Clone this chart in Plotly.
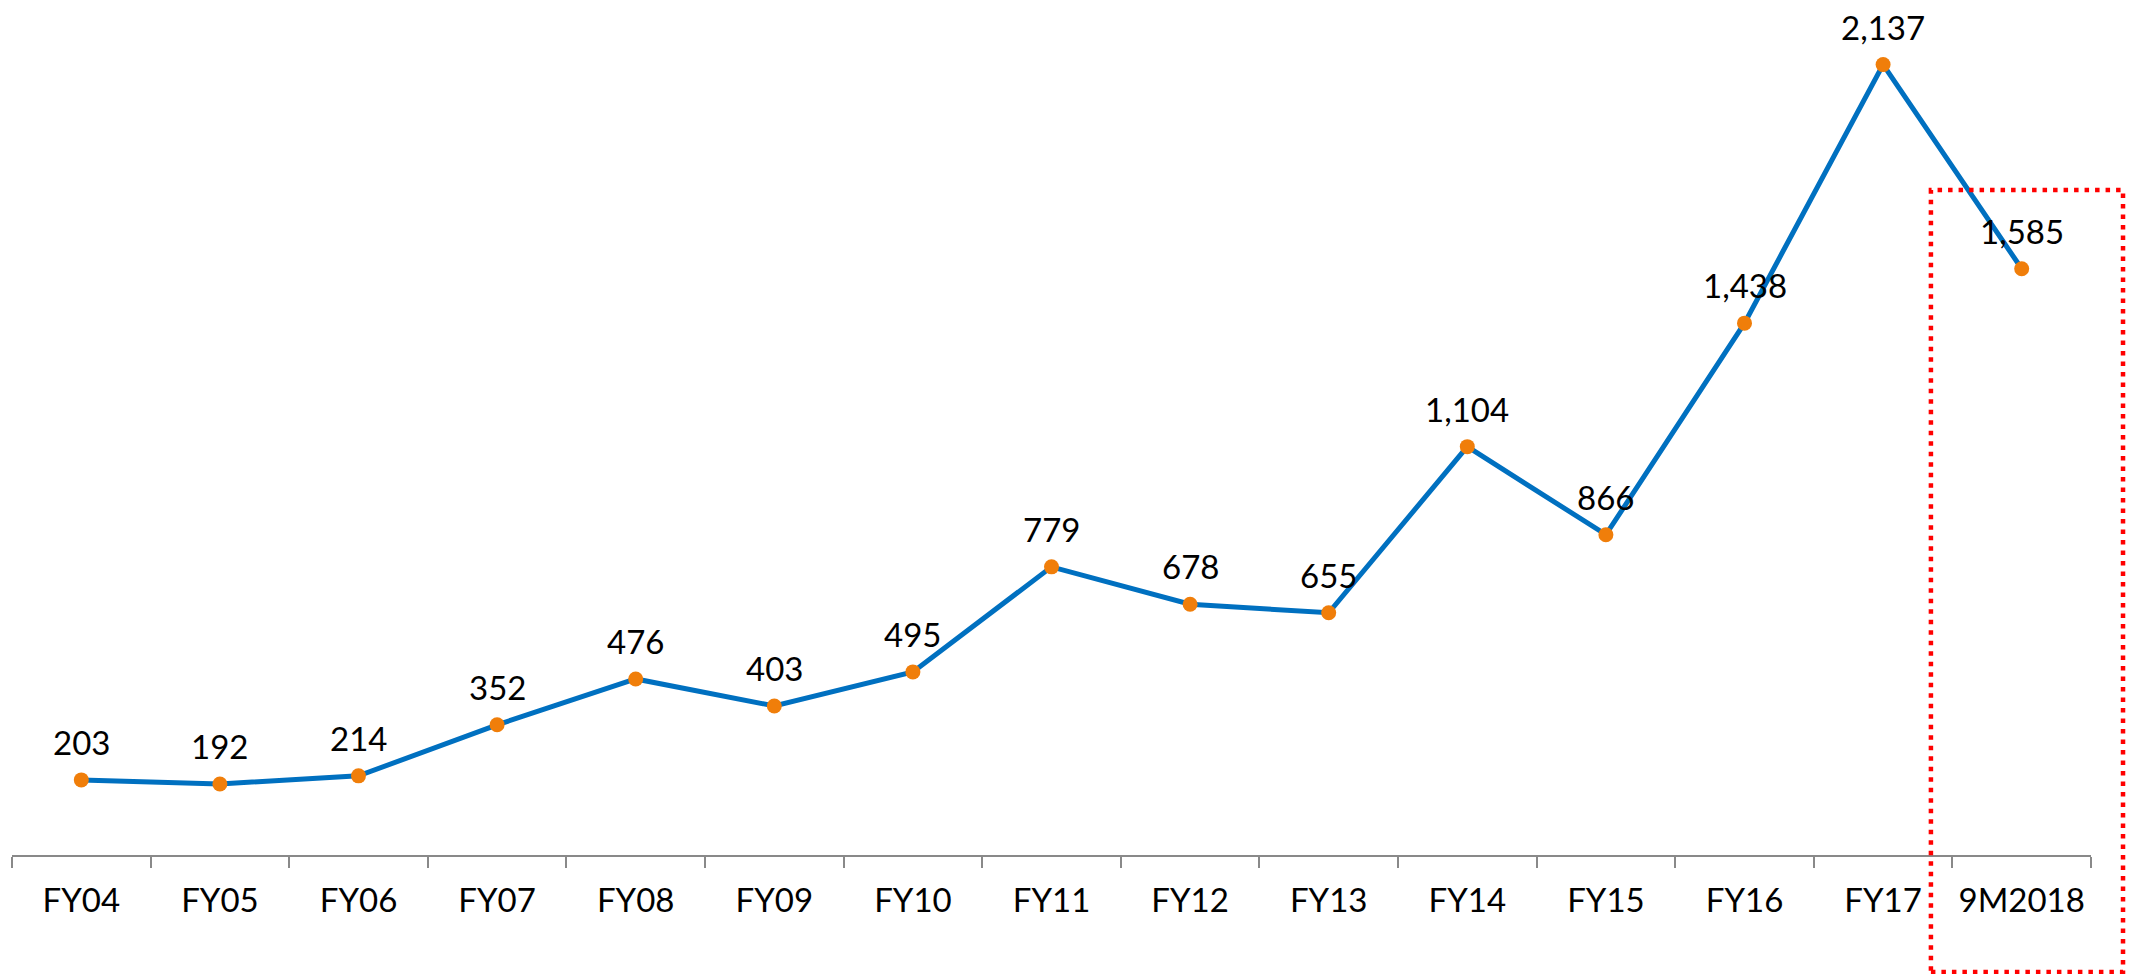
import plotly.graph_objects as go

categories = ["FY04", "FY05", "FY06", "FY07", "FY08", "FY09", "FY10", "FY11",
              "FY12", "FY13", "FY14", "FY15", "FY16", "FY17", "9M2018"]
values = [203, 192, 214, 352, 476, 403, 495, 779, 678, 655, 1104, 866, 1438, 2137, 1585]
labels = [f"{v:,}" for v in values]

FONT = "Lato"

fig = go.Figure()
fig.add_trace(go.Scatter(
    x=categories, y=values, mode="lines+markers",
    line=dict(color="#0070C0", width=5),
    marker=dict(color="#F07E0A", size=15),
    hoverinfo="skip", showlegend=False, cliponaxis=False,
))

for c, v, t in zip(categories, values, labels):
    fig.add_annotation(x=c, y=v, text=t, showarrow=False, yanchor="middle",
                       yshift=38, font=dict(family=FONT, size=33, color="black"))

fig.add_shape(type="rect", xref="paper", yref="paper",
              x0=0.9230, x1=1.0154, y0=-0.1381, y1=0.7851,
              line=dict(color="#FF0000", width=4.5, dash="4.5px,6px"),
              fillcolor="rgba(0,0,0,0)")

fig.update_layout(
    width=2130, height=966,
    margin=dict(l=4, r=47, t=0, b=119, autoexpand=False),
    paper_bgcolor="white", plot_bgcolor="white",
    font=dict(family=FONT, size=33, color="black"),
    xaxis=dict(type="category", range=[-0.5, len(categories) - 0.5], autorange=False,
               automargin=False,
               showline=True, linecolor="#898989", linewidth=2,
               ticks="outside", ticklen=11, tickwidth=2, tickcolor="#898989",
               tickson="boundaries", showgrid=False, zeroline=False,
               tickfont=dict(family=FONT, size=33, color="black"),
               ticklabelstandoff=15),
    yaxis=dict(range=[0, 2290], autorange=False, visible=False, showgrid=False,
               zeroline=False, automargin=False),
)

fig.write_html("out.html")
